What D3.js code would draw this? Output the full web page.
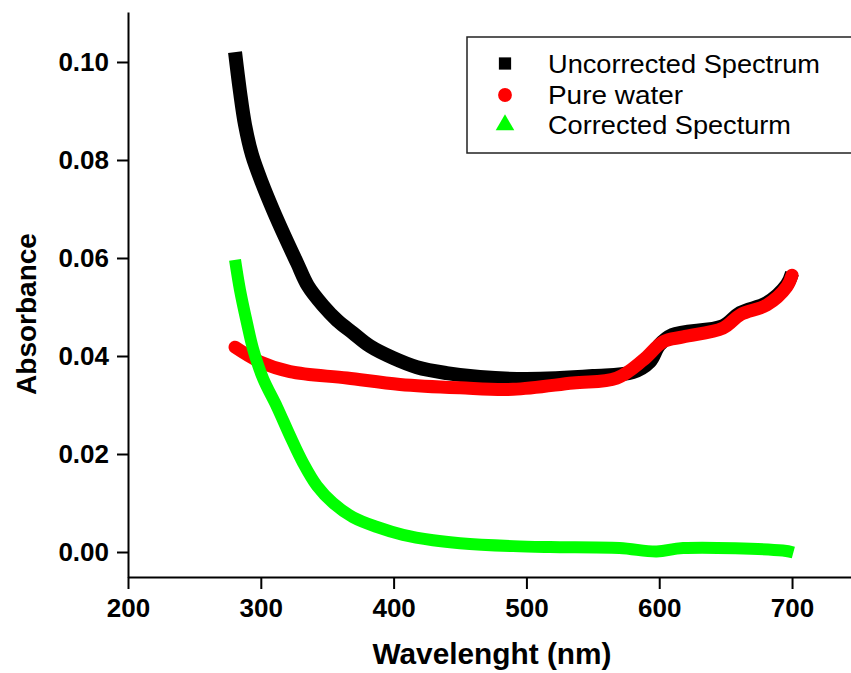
<!DOCTYPE html>
<html><head><meta charset="utf-8">
<script src="https://cdn.jsdelivr.net/npm/d3@7"></script>
<style>body{margin:0;background:#fff}svg{display:block}</style>
</head><body>
<svg id="c" width="851" height="673"></svg>
<script>
const xTicks = [200, 300, 400, 500, 600, 700];
const yTicks = [0.00, 0.02, 0.04, 0.06, 0.08, 0.10];
const seriesNames = ["Uncorrected Spectrum", "Pure water", "Corrected Specturm"];
const seriesColors = ["#000000", "#ff0000", "#00ff00"];

const uncorrectedX = [280.6, 284.3, 288.1, 293.4, 300.9, 309.2, 318.2, 327.3, 335.5, 346.8, 357.4, 369.4, 382.2, 399.5, 417.6, 440, 465, 500, 550, 580, 592.8, 600, 610, 648, 661, 681, 696, 700];
const uncorrectedY = [0.1020, 0.0940, 0.0872, 0.0810, 0.0753, 0.0698, 0.0643, 0.0590, 0.0543, 0.0503, 0.0473, 0.0447, 0.0420, 0.0396, 0.0377, 0.0365, 0.0357, 0.0353, 0.0359, 0.0367, 0.0388, 0.0422, 0.0443, 0.0461, 0.0488, 0.0508, 0.0545, 0.0569];

const waterX = [280.6, 299.4, 322, 364.9, 404.8, 450, 490, 535, 568, 588, 603, 618, 648, 661, 681, 696, 700];
const waterY = [0.0418, 0.0388, 0.0368, 0.0355, 0.0342, 0.0335, 0.0332, 0.0345, 0.0355, 0.0392, 0.0429, 0.0439, 0.0457, 0.0484, 0.0504, 0.0541, 0.0565];

const correctedX = [280.6, 284.3, 289.6, 294.1, 301.7, 312.2, 322, 331.8, 342.3, 354.4, 369.4, 387.5, 407.1, 429.7, 450, 490, 517.8, 570, 598, 618, 693, 701];
const correctedY = [0.0596, 0.0535, 0.0467, 0.0415, 0.0354, 0.0296, 0.0237, 0.0182, 0.0135, 0.0100, 0.0071, 0.0051, 0.0035, 0.0024, 0.0018, 0.0012, 0.0010, 0.0008, 0.0001, 0.0008, 0.0003, -0.0001];

const svg = d3.select("#c");
const x = d3.scaleLinear().domain([200, 744.4]).range([128, 851]);
const y = d3.scaleLinear().domain([-0.0051, 0.1102]).range([577, 12]);

const font = "'Liberation Sans', Arial, sans-serif";

// series
const series = [
  {xs: uncorrectedX, ys: uncorrectedY, w: 14},
  {xs: waterX, ys: waterY, w: 13},
  {xs: correctedX, ys: correctedY, w: 12}
];
const line = d3.line().x(d => x(d[0])).y(d => y(d[1])).curve(d3.curveCatmullRom.alpha(0.5));
series.forEach((s, i) => {
  const pts = s.xs.map((v, j) => [v, s.ys[j]]);
  svg.append("path").attr("d", line(pts)).attr("fill", "none")
    .attr("stroke", seriesColors[i]).attr("stroke-width", s.w)
    .attr("stroke-linejoin", "round").attr("stroke-linecap", i === 1 ? "round" : "butt");
});

// axes
const xAxis = svg.append("g").attr("transform", "translate(0,577)")
  .call(d3.axisBottom(x).tickValues(xTicks).tickSize(12).tickSizeOuter(0).tickPadding(10).tickFormat(d3.format("d")));
const yAxis = svg.append("g").attr("transform", "translate(128,0)")
  .call(d3.axisLeft(y).tickValues(yTicks).tickSize(11).tickSizeOuter(0).tickPadding(8).tickFormat(d3.format(".2f")));
[xAxis, yAxis].forEach(a => {
  a.select(".domain").attr("stroke", "#000").attr("stroke-width", 2);
  a.selectAll(".tick line").attr("stroke", "#000").attr("stroke-width", 2);
  a.selectAll(".tick text").attr("fill", "#000").style("font-family", font)
    .style("font-size", "26px").style("font-weight", "bold");
});

// axis titles
svg.append("text").attr("x", 492).attr("y", 664).attr("text-anchor", "middle")
  .attr("textLength", 239).attr("lengthAdjust", "spacingAndGlyphs")
  .style("font-family", font).style("font-size", "29px").style("font-weight", "bold")
  .text("Wavelenght (nm)");
svg.append("text").attr("transform", "translate(36,314) rotate(-90)").attr("text-anchor", "middle")
  .style("font-family", font).style("font-size", "28px").style("font-weight", "bold")
  .text("Absorbance");

// legend
const lg = svg.append("g");
lg.append("rect").attr("x", 467).attr("y", 37).attr("width", 400).attr("height", 116)
  .attr("fill", "#fff").attr("stroke", "#222").attr("stroke-width", 1.5);
const sym = [d3.symbolSquare, d3.symbolCircle, d3.symbolTriangle];
const rowY = [63.5, 95, 125];
const textLen = [272, 135, 243];
seriesNames.forEach((n, i) => {
  lg.append("path").attr("d", d3.symbol().type(sym[i]).size(150)())
    .attr("transform", `translate(505,${rowY[i]})`).attr("fill", seriesColors[i]);
  lg.append("text").attr("x", 548).attr("y", rowY[i] + 9)
    .attr("textLength", textLen[i]).attr("lengthAdjust", "spacingAndGlyphs")
    .style("font-family", font).style("font-size", "25px").attr("fill", "#000").text(n);
});
</script>
</body></html>
